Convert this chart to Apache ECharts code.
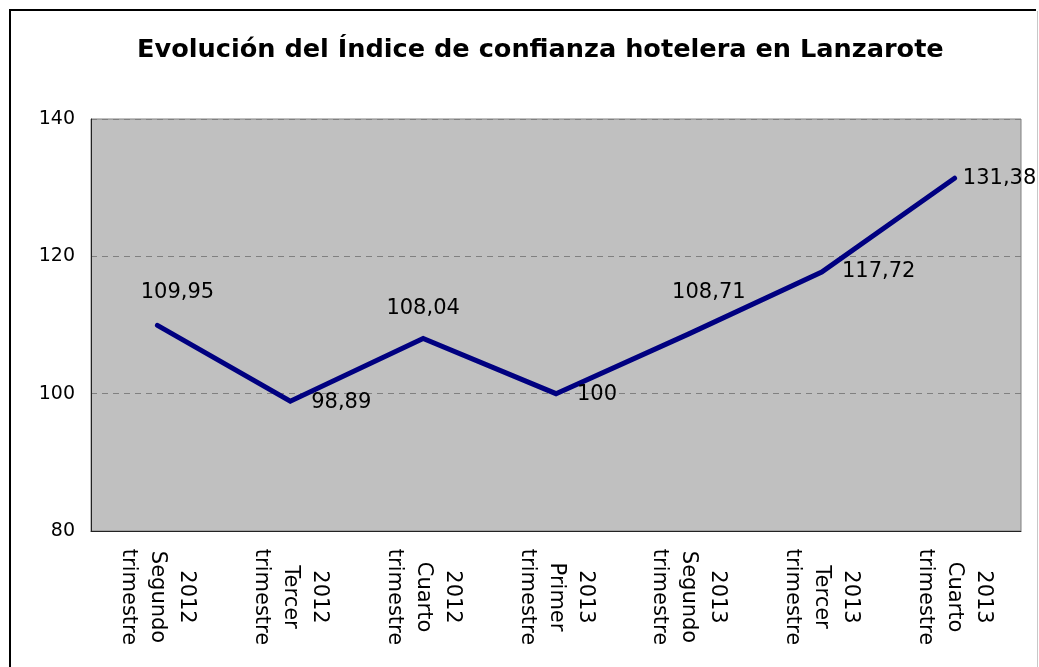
<!DOCTYPE html>
<html>
<head>
<meta charset="utf-8">
<script src="https://cdn.jsdelivr.net/npm/echarts@6/dist/echarts.min.js"></script>
<style>
html,body{margin:0;padding:0;background:#fff;}
#chart{width:1039px;height:667px;}
</style>
</head>
<body>
<div id="chart"></div>
<script>
const titleText = 'Evolución del Índice de confianza hotelera en Lanzarote';
const categories = [
  '2012\nSegundo\ntrimestre',
  '2012\nTercer\ntrimestre',
  '2012\nCuarto\ntrimestre',
  '2013\nPrimer\ntrimestre',
  '2013\nSegundo\ntrimestre',
  '2013\nTercer\ntrimestre',
  '2013\nCuarto\ntrimestre'
];
const values = [109.95, 98.89, 108.04, 100, 108.71, 117.72, 131.38];
const yMin = 80, yMax = 140, yStep = 20;

// label offsets relative to each point (style, not data)
const labelOffsets = [[20,-33],[51,1],[0,-30],[41,1],[20,-41],[57,0],[45,0]];

const chart = echarts.init(document.getElementById('chart'), null, {renderer:'canvas'});
const fmt = v => String(v).replace('.', ',');

const option = {
  animation: false,
  backgroundColor: '#ffffff',
  title: {
    text: titleText,
    left: 132,
    top: 32,
    textStyle: {fontFamily: 'DejaVu Sans', fontWeight: 'bold', fontSize: 25.6, color: '#000'}
  },
  graphic: [
    {type:'line', shape:{x1:9,y1:10,x2:1036,y2:10}, style:{stroke:'#000',lineWidth:2}},
    {type:'line', shape:{x1:10,y1:9,x2:10,y2:667}, style:{stroke:'#000',lineWidth:2}},
    {type:'line', shape:{x1:1037.5,y1:11,x2:1037.5,y2:667}, style:{stroke:'#c8c8c8',lineWidth:1}}
  ],
  grid: {
    left: 91, right: 18, top: 119, bottom: 136,
    show: true, backgroundColor: '#c0c0c0', borderColor: '#808080', borderWidth: 1
  },
  xAxis: {
    type: 'category',
    data: categories,
    boundaryGap: true,
    axisLine: {show: true, lineStyle: {color: '#222', width: 1}},
    axisTick: {show: false},
    axisLabel: {
      rotate: -90,
      interval: 0,
      margin: 66,
      align: 'center',
      verticalAlign: 'middle',
      fontFamily: 'DejaVu Sans',
      fontSize: 21,
      lineHeight: 29,
      color: '#000'
    }
  },
  yAxis: {
    type: 'value',
    min: yMin, max: yMax, interval: yStep,
    axisLine: {show: true, lineStyle: {color: '#222', width: 1}},
    axisTick: {show: false},
    axisLabel: {fontFamily: 'DejaVu Sans', fontSize: 19, color: '#000', margin: 16},
    splitLine: {show: true, lineStyle: {color: '#808080', type: [6,5], width: 1}}
  },
  series: [{
    type: 'line',
    data: values.map((v, i) => ({
      value: v,
      label: {offset: labelOffsets[i]}
    })),
    symbol: 'circle',
    symbolSize: 2,
    showSymbol: true,
    itemStyle: {color: 'rgba(0,0,0,0)', borderWidth: 0},
    lineStyle: {color: '#000080', width: 5, cap: 'round', join: 'miter'},
    label: {
      show: true,
      position: 'inside',
      formatter: p => fmt(p.value),
      fontFamily: 'DejaVu Sans',
      fontSize: 21,
      color: '#000'
    },
    z: 5
  }]
};
chart.setOption(option);
</script>
</body>
</html>
